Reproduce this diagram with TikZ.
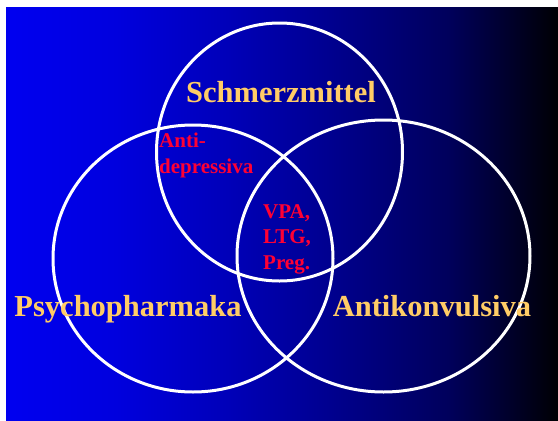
\documentclass[tikz,border=0pt]{standalone}
\usepackage{fontspec}
\setmainfont{Liberation Serif}
\definecolor{gA}{RGB}{0,0,240}
\definecolor{gB}{RGB}{0,0,222}
\definecolor{gC}{RGB}{0,0,185}
\definecolor{gD}{RGB}{0,0,140}
\definecolor{gE}{RGB}{0,0,92}
\definecolor{gG}{RGB}{0,0,48}
\definecolor{gF}{RGB}{0,0,3}
\definecolor{labelyellow}{RGB}{255,204,102}
\definecolor{labelred}{RGB}{255,0,51}
\pgfdeclarehorizontalshading{bgshade}{100bp}{color(0bp)=(gA); color(25bp)=(gA); color(35bp)=(gB); color(45bp)=(gC); color(55bp)=(gD); color(65bp)=(gE); color(70bp)=(gG); color(75bp)=(gF); color(100bp)=(gF)}
\tikzset{
  venn/.style={draw=white, line width=3pt},
  biglabel/.style={text=labelyellow, font=\fontsize{30.5}{36}\selectfont\bfseries, inner sep=0pt, anchor=base},
  smalllabel/.style={text=labelred, font=\fontsize{21}{25.5}\selectfont\bfseries, inner sep=0pt, align=left, anchor=base west}
}
\begin{document}
\begin{tikzpicture}[x=1pt, y=-1pt]
\useasboundingbox (0,0) rectangle (558,421);
\fill[white] (0,0) rectangle (558,421);
\shade[shading=bgshade] (6,7) rectangle (558,421);
\draw[venn] (279.5,152) ellipse [x radius=123pt, y radius=129pt];
\draw[venn] (193,258.5) ellipse [x radius=140pt, y radius=133.5pt];
\draw[venn] (383.5,256) ellipse [x radius=146.5pt, y radius=136pt];
\node[biglabel] (schmerz) at (281,102) {Schmerzmittel};
\node[biglabel] (psycho) at (128,316) {Psychopharmaka};
\node[biglabel] (antikon) at (432,316) {Antikonvulsiva};
\node[smalllabel] (antidep) at (159,173) {Anti-\\depressiva};
\node[smalllabel] (vpa) at (263,269) {VPA,\\LTG,\\Preg.};
\end{tikzpicture}
\end{document}
